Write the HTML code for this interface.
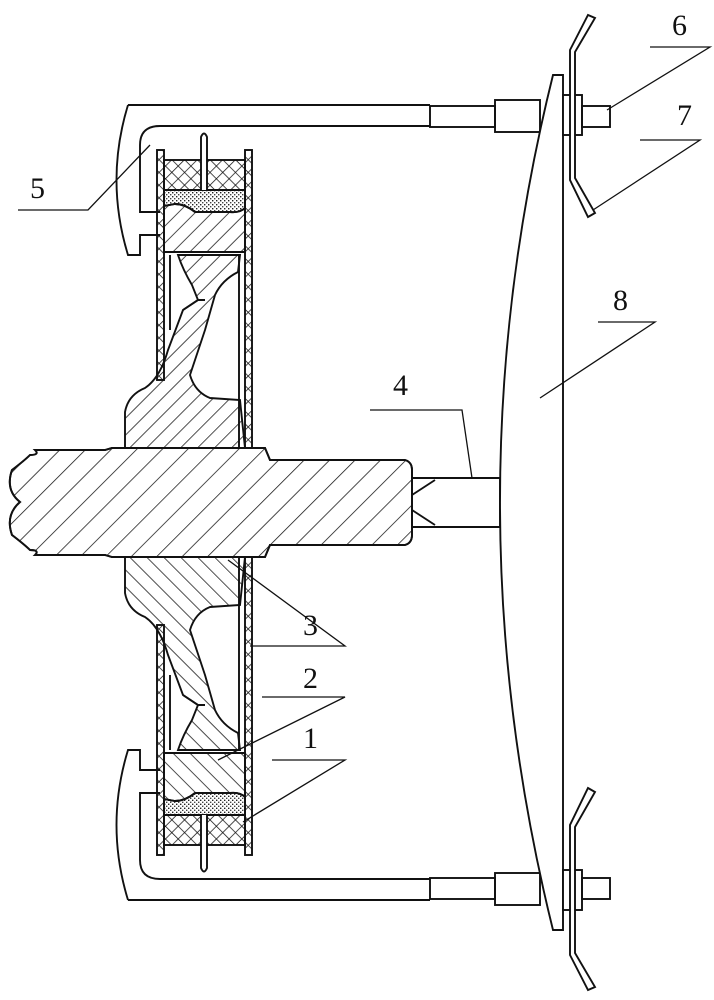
<!DOCTYPE html>
<html><head><meta charset="utf-8"><style>html,body{margin:0;padding:0;background:#fff}svg{display:block}</style></head>
<body>
<svg width="714" height="1000" viewBox="0 0 714 1000" xmlns="http://www.w3.org/2000/svg" fill="none" stroke="#111" stroke-width="1.9">
<defs>
<pattern id="h" width="12" height="12" patternUnits="userSpaceOnUse" patternTransform="rotate(45)"><line x1="0" y1="0" x2="0" y2="12" stroke="#111" stroke-width="1.5"/></pattern>
<pattern id="hs" width="18" height="18" patternUnits="userSpaceOnUse" patternTransform="rotate(45)"><line x1="0" y1="0" x2="0" y2="18" stroke="#111" stroke-width="1.5"/></pattern>
<pattern id="x" width="9" height="9" patternUnits="userSpaceOnUse" patternTransform="rotate(45)"><line x1="0" y1="0" x2="0" y2="9" stroke="#111" stroke-width="1.5"/><line x1="0" y1="0" x2="9" y2="0" stroke="#111" stroke-width="1.5"/></pattern>
<pattern id="d" width="4" height="4" patternUnits="userSpaceOnUse"><rect x="0" y="0" width="1.4" height="1.4" fill="#222" stroke="none"/><rect x="2" y="2" width="1.4" height="1.4" fill="#444" stroke="none"/></pattern>
<g id="half">
  <path d="M128,105 L430,105 M128,105 Q105,180 128,255 L140,255 L140,235 L160,235 M160,212 L140,212 L140,145 Q140,126 160,126 L430,126"/>
  <rect x="430" y="106" width="65" height="21"/>
  <rect x="495" y="100" width="45" height="32"/>
  <rect x="157" y="150" width="7" height="230" fill="url(#x)"/>
  <rect x="245" y="150" width="7" height="300" fill="url(#x)"/>
  <line x1="239" y1="255" x2="239" y2="448"/>
  <line x1="170" y1="255" x2="170" y2="330"/>
  <rect x="164" y="160" width="81" height="30" fill="url(#x)"/>
  <path d="M164,190 L245,190 L245,208 Q240,213 230,212 L195,212 Q185,204 175,204 L164,206 Z" fill="url(#d)"/>
  <path d="M164,206 L175,204 Q185,204 195,212 L230,212 Q240,213 245,208 L245,252 L164,252 Z" fill="url(#h)"/>
  <path d="M201,190 L201,137 Q204,130 207,137 L207,190" fill="#fff"/>
  <path d="M178,255 L240,255 L238,272 Q222,280 215,295 L205,330 L190,375 Q195,392 210,398 L240,400 L245,448 L125,448 L125,412 Q128,395 145,388 Q160,378 168,350 L183,310 L198,300 L192,285 Q183,270 178,255 Z" fill="url(#h)"/>
  <path d="M183,310 L198,300 L205,300"/>
</g>
</defs>
<use href="#half"/>
<use href="#half" transform="translate(0,1005) scale(1,-1)"/>
<path d="M20,502 Q5,490 12,470 Q25,460 30,455 Q40,455 35,450 L105,450 L112,448 L265,448 L270,460 L405,460 Q412,462 412,470 L412,535 Q412,543 405,545 L270,545 L265,557 L112,557 L105,555 L35,555 Q40,550 30,550 Q25,545 12,535 Q5,515 20,502 Z" fill="#fff"/>
<path d="M20,502 Q5,490 12,470 Q25,460 30,455 Q40,455 35,450 L105,450 L112,448 L265,448 L270,460 L405,460 Q412,462 412,470 L412,535 Q412,543 405,545 L270,545 L265,557 L112,557 L105,555 L35,555 Q40,550 30,550 Q25,545 12,535 Q5,515 20,502 Z" fill="url(#hs)"/>
<path d="M412,478 L500,478 L500,527 L412,527 M412,495 L435,480 M412,510 L435,525"/>
<path d="M553,75 L563,75 L563,930 L553,930 Q447,502 553,75 Z" fill="#fff"/>
<g id="bolt">
  <rect x="563" y="95" width="19" height="40" fill="#fff"/>
  <rect x="582" y="106" width="28" height="21"/>
  <path d="M570,50 L588,15 L595,18 L575,52 L575,178 L595,213 L588,217 L570,180 Z" fill="#fff"/>
</g>
<use href="#bolt" transform="translate(0,1005) scale(1,-1)"/>
<g stroke="#111" stroke-width="1.3">
  <path d="M18,210 L88,210 L150,145"/>
  <path d="M650,47 L710,47 L607,110"/>
  <path d="M640,140 L700,140 L593,210"/>
  <path d="M598,322 L655,322 L540,398"/>
  <path d="M370,410 L462,410 L472,478"/>
  <path d="M250,646 L345,646 L228,560"/>
  <path d="M262,697 L345,697 L218,760"/>
  <path d="M272,760 L345,760 L243,822"/>
</g>
<g font-family="Liberation Serif, serif" font-size="30" fill="#111" stroke="none">
  <text x="30" y="198">5</text>
  <text x="672" y="35">6</text>
  <text x="677" y="125">7</text>
  <text x="613" y="310">8</text>
  <text x="393" y="395">4</text>
  <text x="303" y="635">3</text>
  <text x="303" y="688">2</text>
  <text x="303" y="748">1</text>
</g>
</svg>
</body></html>
